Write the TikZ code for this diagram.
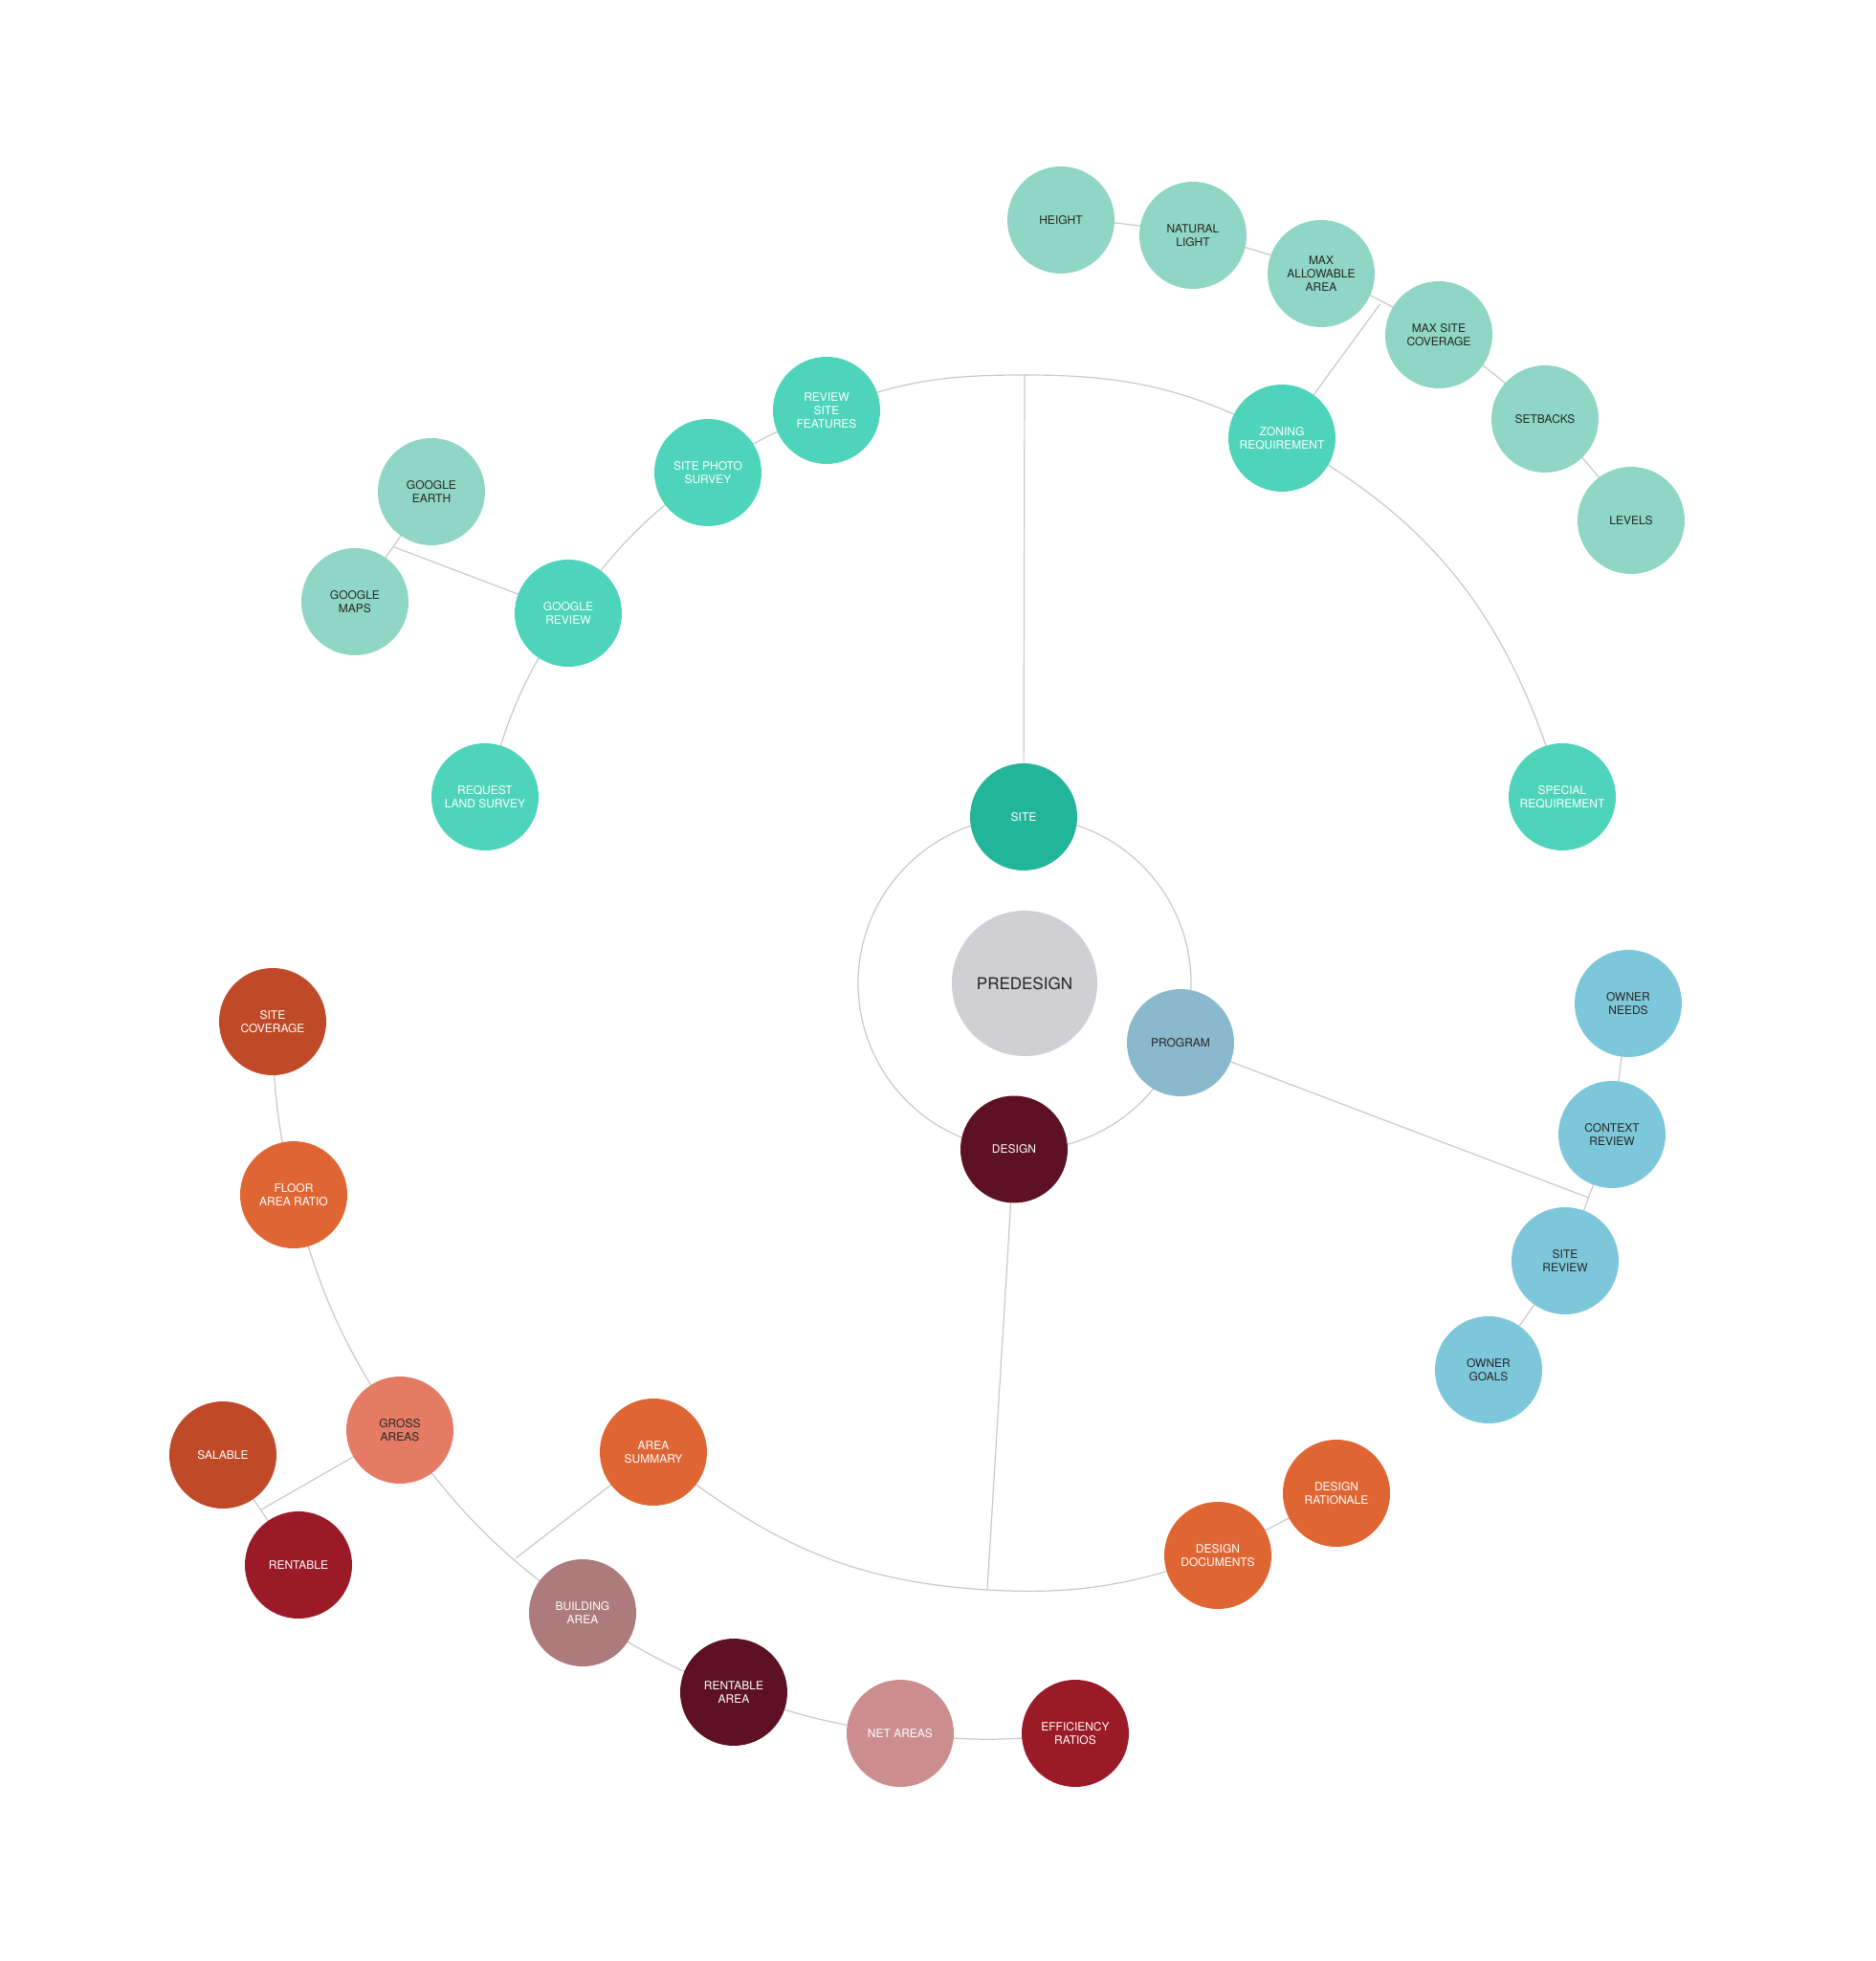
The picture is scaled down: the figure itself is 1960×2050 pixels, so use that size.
\documentclass[tikz,border=0pt]{standalone}
\usepackage{fontspec}
\setmainfont{TeX Gyre Heros}
\usetikzlibrary{calc,backgrounds}
\definecolor{linkc}{HTML}{C9C9C9}
\definecolor{cpre}{HTML}{CFCFD4}
\definecolor{csite}{HTML}{22B59A}
\definecolor{cteal}{HTML}{4DD4BA}
\definecolor{csage}{HTML}{8FD6C4}
\definecolor{cprog}{HTML}{8AB8CC}
\definecolor{cblue}{HTML}{7DC7DA}
\definecolor{cmaroon}{HTML}{5E1124}
\definecolor{corange}{HTML}{DF6633}
\definecolor{crust}{HTML}{C04A27}
\definecolor{csalmon}{HTML}{E57B64}
\definecolor{cmauve}{HTML}{AD7B7B}
\definecolor{cpink}{HTML}{CB8D8D}
\definecolor{ccrimson}{HTML}{9A1B27}
\definecolor{ctextd}{HTML}{262626}
\tikzset{
  bub/.style={circle, minimum size=112pt, inner sep=0pt, align=center,
    font=\fontsize{12}{14}\selectfont},
  light/.style={bub, text=white},
  dark/.style={bub, text=ctextd},
  link/.style={draw=linkc, line width=1.2pt}
}
\begin{document}
\begin{tikzpicture}[x=1pt,y=1pt]
\useasboundingbox (-1071,-1022) rectangle (889,1028);

% centre
\node[dark, fill=cpre, minimum size=152pt, font=\fontsize{17}{20}\selectfont] (pre) at (0,0) {PREDESIGN};
\node[light, fill=csite] (site) at (-1,174) {SITE};
\node[dark, fill=cprog] (prog) at (163,-62) {PROGRAM};
\node[light, fill=cmaroon] (design) at (-11,-173.5) {DESIGN};

% site branch
\node[light, fill=cteal] (zoning) at (269,570) {ZONING\\REQUIREMENT};
\node[light, fill=cteal] (special) at (562,195) {SPECIAL\\REQUIREMENT};
\node[light, fill=cteal] (rsf) at (-207,599) {REVIEW\\SITE\\FEATURES};
\node[light, fill=cteal] (sps) at (-331,534) {SITE PHOTO\\SURVEY};
\node[light, fill=cteal] (greview) at (-477,387) {GOOGLE\\REVIEW};
\node[light, fill=cteal] (rls) at (-564,195) {REQUEST\\LAND SURVEY};
\node[dark, fill=csage] (height) at (38,798) {HEIGHT};
\node[dark, fill=csage] (nlight) at (176,782) {NATURAL\\LIGHT};
\node[dark, fill=csage] (maa) at (310,742) {MAX\\ALLOWABLE\\AREA};
\node[dark, fill=csage] (msc) at (433,678) {MAX SITE\\COVERAGE};
\node[dark, fill=csage] (setb) at (544,590) {SETBACKS};
\node[dark, fill=csage] (levels) at (634,484) {LEVELS};
\node[dark, fill=csage] (gearth) at (-620,514) {GOOGLE\\EARTH};
\node[dark, fill=csage] (gmaps) at (-700,399) {GOOGLE\\MAPS};

% program branch
\node[dark, fill=cblue] (oneeds) at (631,-21) {OWNER\\NEEDS};
\node[dark, fill=cblue] (context) at (614,-158) {CONTEXT\\REVIEW};
\node[dark, fill=cblue] (sreview) at (565,-290) {SITE\\REVIEW};
\node[dark, fill=cblue] (ogoals) at (485,-404) {OWNER\\GOALS};

% design branch
\node[light, fill=corange] (asum) at (-388,-490) {AREA\\SUMMARY};
\node[light, fill=corange] (ddocs) at (202,-598) {DESIGN\\DOCUMENTS};
\node[light, fill=corange] (drat) at (326,-533) {DESIGN\\RATIONALE};
\node[light, fill=crust] (scov) at (-786,-40) {SITE\\COVERAGE};
\node[light, fill=corange] (far) at (-764,-221) {FLOOR\\AREA RATIO};
\node[dark, fill=csalmon] (gross) at (-653,-467) {GROSS\\AREAS};
\node[light, fill=crust] (salable) at (-838,-493) {SALABLE};
\node[light, fill=ccrimson] (rentable) at (-759,-608) {RENTABLE};
\node[light, fill=cmauve] (barea) at (-462,-658) {BUILDING\\AREA};
\node[light, fill=cmaroon] (rarea) at (-304,-741) {RENTABLE\\AREA};
\node[light, fill=cpink] (netareas) at (-130,-784) {NET AREAS};
\node[light, fill=ccrimson] (eff) at (53,-784) {EFFICIENCY\\RATIOS};

% junction points
\coordinate (stop) at (0,636);
\coordinate (dj) at (-39,-634);
\coordinate (bj) at (-131.5:802);

\begin{scope}[on background layer]
  \draw[link] (pre.center) circle[radius=174];
  % site
  \draw[link] (site.center) -- (stop);
  \draw[link] (stop) to[out=0,in=151.7] (zoning.center)
                     to[out=-28.3,in=106.1] (special.center);
  \draw[link] (stop) to[out=180,in=22.1] (rsf.center)
                     to[out=202.1,in=34.8] (sps.center)
                     to[out=214.8,in=53.9] (greview.center)
                     to[out=233.9,in=73.9] (rls.center);
  \draw[link] (greview.center) -- ($(gearth)!0.5!(gmaps)$);
  \draw[link] (gearth.center) -- (gmaps.center);
  \draw[link] (zoning.center) -- ($(maa)!0.5!(msc)$);
  \draw[link] (height.center) to[bend left=5] (nlight.center)
              to[bend left=5] (maa.center) to[bend left=5] (msc.center)
              to[bend left=5] (setb.center) to[bend left=5] (levels.center);
  % program
  \draw[link] (prog.center) -- ($(context)!0.5!(sreview)$);
  \draw[link] (oneeds.center) -- (context.center) -- (sreview.center) -- (ogoals.center);
  % design
  \draw[link] (design.center) -- (dj);
  \draw[link] (dj) to[out=176.6,in=-38.4] (asum.center);
  \draw[link] (dj) to[out=-3.4,in=-161.4] (ddocs.center);
  \draw[link] (ddocs.center) -- (drat.center);
  \draw[link] (asum.center) -- (bj);
  \draw[link] (scov.center) to[bend right=6.6] (far.center)
              to[bend right=9.75] (gross.center)
              to[bend right=9.65] (barea.center)
              to[bend right=6.4] (rarea.center)
              to[bend right=6.45] (netareas.center)
              to[bend right=6.65] (eff.center);
  \draw[link] (gross.center) -- ($(salable)!0.5!(rentable)$);
  \draw[link] (salable.center) -- (rentable.center);
\end{scope}
\end{tikzpicture}
\end{document}
